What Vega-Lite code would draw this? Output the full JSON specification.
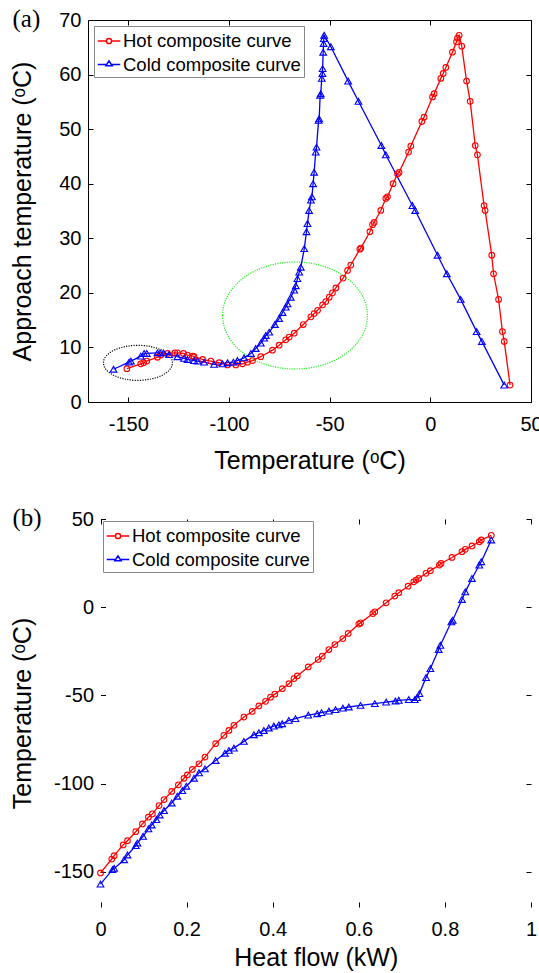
{
  "$schema": "https://vega.github.io/schema/vega-lite/v6.json",
  "background": "white",
  "padding": {"left": 10, "top": 6, "right": 0, "bottom": 0},
  "columns": 1,
  "align": "none",
  "bounds": "full",
  "spacing": 32,
  "resolve": {"scale": {"x": "independent", "y": "independent", "color": "independent"}, "legend": {"color": "independent"}},
  "datasets": {
    "a": [
      {"s":"Hot composite curve","i":1,"x":-150.7,"y":6.1},{"s":"Hot composite curve","i":2,"x":-143.8,"y":7.0},{"s":"Hot composite curve","i":3,"x":-142.4,"y":7.2},{"s":"Hot composite curve","i":4,"x":-140.8,"y":7.5},{"s":"Hot composite curve","i":5,"x":-135.5,"y":8.2},{"s":"Hot composite curve","i":6,"x":-133.8,"y":8.6},{"s":"Hot composite curve","i":7,"x":-130.5,"y":8.9},{"s":"Hot composite curve","i":8,"x":-126.9,"y":9.0},{"s":"Hot composite curve","i":9,"x":-125.6,"y":9.0},{"s":"Hot composite curve","i":10,"x":-122.6,"y":8.9},{"s":"Hot composite curve","i":11,"x":-120.6,"y":8.6},{"s":"Hot composite curve","i":12,"x":-118.1,"y":8.4},{"s":"Hot composite curve","i":13,"x":-117.3,"y":8.3},{"s":"Hot composite curve","i":14,"x":-113.1,"y":7.8},{"s":"Hot composite curve","i":15,"x":-109.0,"y":7.5},{"s":"Hot composite curve","i":16,"x":-104.9,"y":7.2},{"s":"Hot composite curve","i":17,"x":-100.7,"y":6.8},{"s":"Hot composite curve","i":18,"x":-96.6,"y":6.8},{"s":"Hot composite curve","i":19,"x":-93.3,"y":7.0},{"s":"Hot composite curve","i":20,"x":-90.8,"y":7.3},{"s":"Hot composite curve","i":21,"x":-88.3,"y":7.6},{"s":"Hot composite curve","i":22,"x":-84.2,"y":8.3},{"s":"Hot composite curve","i":23,"x":-78.4,"y":9.5},{"s":"Hot composite curve","i":24,"x":-75.1,"y":10.4},{"s":"Hot composite curve","i":25,"x":-71.8,"y":11.4},{"s":"Hot composite curve","i":26,"x":-70.1,"y":11.9},{"s":"Hot composite curve","i":27,"x":-67.6,"y":12.6},{"s":"Hot composite curve","i":28,"x":-63.1,"y":14.2},{"s":"Hot composite curve","i":29,"x":-59.3,"y":15.6},{"s":"Hot composite curve","i":30,"x":-57.7,"y":16.2},{"s":"Hot composite curve","i":31,"x":-56.0,"y":16.8},{"s":"Hot composite curve","i":32,"x":-53.5,"y":17.8},{"s":"Hot composite curve","i":33,"x":-51.9,"y":18.4},{"s":"Hot composite curve","i":34,"x":-50.2,"y":19.2},{"s":"Hot composite curve","i":35,"x":-48.6,"y":20.0},{"s":"Hot composite curve","i":36,"x":-46.9,"y":20.9},{"s":"Hot composite curve","i":37,"x":-43.3,"y":22.7},{"s":"Hot composite curve","i":38,"x":-41.1,"y":24.1},{"s":"Hot composite curve","i":39,"x":-39.5,"y":25.1},{"s":"Hot composite curve","i":40,"x":-35.0,"y":28.0},{"s":"Hot composite curve","i":41,"x":-34.5,"y":28.2},{"s":"Hot composite curve","i":42,"x":-30.0,"y":31.2},{"s":"Hot composite curve","i":43,"x":-28.7,"y":32.5},{"s":"Hot composite curve","i":44,"x":-27.9,"y":32.9},{"s":"Hot composite curve","i":45,"x":-24.6,"y":35.1},{"s":"Hot composite curve","i":46,"x":-22.1,"y":37.3},{"s":"Hot composite curve","i":47,"x":-21.3,"y":37.6},{"s":"Hot composite curve","i":48,"x":-18.5,"y":40.0},{"s":"Hot composite curve","i":49,"x":-16.3,"y":41.8},{"s":"Hot composite curve","i":50,"x":-15.5,"y":42.1},{"s":"Hot composite curve","i":51,"x":-10.8,"y":45.8},{"s":"Hot composite curve","i":52,"x":-9.7,"y":46.9},{"s":"Hot composite curve","i":53,"x":-4.2,"y":51.4},{"s":"Hot composite curve","i":54,"x":-3.1,"y":52.2},{"s":"Hot composite curve","i":55,"x":1.1,"y":55.9},{"s":"Hot composite curve","i":56,"x":1.9,"y":56.5},{"s":"Hot composite curve","i":57,"x":5.2,"y":59.3},{"s":"Hot composite curve","i":58,"x":6.4,"y":60.2},{"s":"Hot composite curve","i":59,"x":7.7,"y":61.3},{"s":"Hot composite curve","i":60,"x":11.0,"y":64.1},{"s":"Hot composite curve","i":61,"x":13.0,"y":66.0},{"s":"Hot composite curve","i":62,"x":13.5,"y":66.7},{"s":"Hot composite curve","i":63,"x":14.3,"y":67.2},{"s":"Hot composite curve","i":64,"x":15.6,"y":65.2},{"s":"Hot composite curve","i":65,"x":18.0,"y":58.8},{"s":"Hot composite curve","i":66,"x":19.8,"y":55.1},{"s":"Hot composite curve","i":67,"x":22.3,"y":47.0},{"s":"Hot composite curve","i":68,"x":23.4,"y":45.3},{"s":"Hot composite curve","i":69,"x":26.7,"y":36.0},{"s":"Hot composite curve","i":70,"x":27.2,"y":35.1},{"s":"Hot composite curve","i":71,"x":30.5,"y":26.9},{"s":"Hot composite curve","i":72,"x":31.4,"y":23.5},{"s":"Hot composite curve","i":73,"x":33.9,"y":18.8},{"s":"Hot composite curve","i":74,"x":35.8,"y":12.9},{"s":"Hot composite curve","i":75,"x":36.7,"y":11.1},{"s":"Hot composite curve","i":76,"x":39.6,"y":3.1},
      {"s":"Cold composite curve","i":1,"x":-157.3,"y":6.0},{"s":"Cold composite curve","i":2,"x":-149.6,"y":7.3},{"s":"Cold composite curve","i":3,"x":-148.7,"y":7.5},{"s":"Cold composite curve","i":4,"x":-143.8,"y":8.4},{"s":"Cold composite curve","i":5,"x":-142.1,"y":8.9},{"s":"Cold composite curve","i":6,"x":-140.8,"y":8.9},{"s":"Cold composite curve","i":7,"x":-135.5,"y":9.0},{"s":"Cold composite curve","i":8,"x":-134.2,"y":9.0},{"s":"Cold composite curve","i":9,"x":-132.5,"y":9.0},{"s":"Cold composite curve","i":10,"x":-129.7,"y":8.7},{"s":"Cold composite curve","i":11,"x":-125.6,"y":8.3},{"s":"Cold composite curve","i":12,"x":-122.3,"y":8.0},{"s":"Cold composite curve","i":13,"x":-120.6,"y":7.8},{"s":"Cold composite curve","i":14,"x":-117.3,"y":7.6},{"s":"Cold composite curve","i":15,"x":-115.6,"y":7.5},{"s":"Cold composite curve","i":16,"x":-112.3,"y":7.3},{"s":"Cold composite curve","i":17,"x":-107.4,"y":6.9},{"s":"Cold composite curve","i":18,"x":-103.2,"y":7.0},{"s":"Cold composite curve","i":19,"x":-100.7,"y":7.2},{"s":"Cold composite curve","i":20,"x":-97.8,"y":7.3},{"s":"Cold composite curve","i":21,"x":-95.8,"y":7.6},{"s":"Cold composite curve","i":22,"x":-92.5,"y":8.1},{"s":"Cold composite curve","i":23,"x":-89.1,"y":8.9},{"s":"Cold composite curve","i":24,"x":-86.7,"y":9.8},{"s":"Cold composite curve","i":25,"x":-84.2,"y":10.8},{"s":"Cold composite curve","i":26,"x":-82.5,"y":11.7},{"s":"Cold composite curve","i":27,"x":-81.7,"y":12.2},{"s":"Cold composite curve","i":28,"x":-80.0,"y":12.8},{"s":"Cold composite curve","i":29,"x":-77.2,"y":14.2},{"s":"Cold composite curve","i":30,"x":-75.1,"y":15.3},{"s":"Cold composite curve","i":31,"x":-73.4,"y":16.4},{"s":"Cold composite curve","i":32,"x":-71.8,"y":17.4},{"s":"Cold composite curve","i":33,"x":-70.9,"y":18.0},{"s":"Cold composite curve","i":34,"x":-69.3,"y":19.2},{"s":"Cold composite curve","i":35,"x":-67.6,"y":20.5},{"s":"Cold composite curve","i":36,"x":-66.8,"y":21.3},{"s":"Cold composite curve","i":37,"x":-66.0,"y":22.6},{"s":"Cold composite curve","i":38,"x":-65.1,"y":23.8},{"s":"Cold composite curve","i":39,"x":-64.3,"y":24.7},{"s":"Cold composite curve","i":40,"x":-62.6,"y":28.1},{"s":"Cold composite curve","i":41,"x":-61.5,"y":31.2},{"s":"Cold composite curve","i":42,"x":-61.0,"y":32.7},{"s":"Cold composite curve","i":43,"x":-60.2,"y":35.1},{"s":"Cold composite curve","i":44,"x":-59.3,"y":37.0},{"s":"Cold composite curve","i":45,"x":-58.8,"y":37.6},{"s":"Cold composite curve","i":46,"x":-58.2,"y":40.0},{"s":"Cold composite curve","i":47,"x":-57.7,"y":42.1},{"s":"Cold composite curve","i":48,"x":-56.9,"y":45.8},{"s":"Cold composite curve","i":49,"x":-56.5,"y":46.7},{"s":"Cold composite curve","i":50,"x":-55.5,"y":51.6},{"s":"Cold composite curve","i":51,"x":-55.2,"y":51.9},{"s":"Cold composite curve","i":52,"x":-54.7,"y":56.2},{"s":"Cold composite curve","i":53,"x":-54.4,"y":56.5},{"s":"Cold composite curve","i":54,"x":-53.9,"y":59.3},{"s":"Cold composite curve","i":55,"x":-53.6,"y":60.2},{"s":"Cold composite curve","i":56,"x":-53.5,"y":61.1},{"s":"Cold composite curve","i":57,"x":-53.2,"y":64.1},{"s":"Cold composite curve","i":58,"x":-53.0,"y":65.7},{"s":"Cold composite curve","i":59,"x":-52.9,"y":66.6},{"s":"Cold composite curve","i":60,"x":-52.7,"y":67.2},{"s":"Cold composite curve","i":61,"x":-49.4,"y":65.1},{"s":"Cold composite curve","i":62,"x":-40.8,"y":58.8},{"s":"Cold composite curve","i":63,"x":-35.7,"y":55.1},{"s":"Cold composite curve","i":64,"x":-24.3,"y":47.0},{"s":"Cold composite curve","i":65,"x":-22.1,"y":45.3},{"s":"Cold composite curve","i":66,"x":-8.9,"y":36.0},{"s":"Cold composite curve","i":67,"x":-7.5,"y":35.1},{"s":"Cold composite curve","i":68,"x":3.6,"y":26.9},{"s":"Cold composite curve","i":69,"x":8.2,"y":23.5},{"s":"Cold composite curve","i":70,"x":15.1,"y":18.8},{"s":"Cold composite curve","i":71,"x":23.0,"y":12.9},{"s":"Cold composite curve","i":72,"x":25.6,"y":11.1},{"s":"Cold composite curve","i":73,"x":36.7,"y":3.1}
    ],
    "b": [
      {"s":"Hot composite curve","i":1,"x":0,"y":-150.7},{"s":"Hot composite curve","i":2,"x":0.0262,"y":-142.8},{"s":"Hot composite curve","i":3,"x":0.0317,"y":-140.9},{"s":"Hot composite curve","i":4,"x":0.0526,"y":-134.8},{"s":"Hot composite curve","i":5,"x":0.0626,"y":-132.4},{"s":"Hot composite curve","i":6,"x":0.0819,"y":-127.3},{"s":"Hot composite curve","i":7,"x":0.0974,"y":-122.9},{"s":"Hot composite curve","i":8,"x":0.1113,"y":-119.1},{"s":"Hot composite curve","i":9,"x":0.1205,"y":-117.2},{"s":"Hot composite curve","i":10,"x":0.136,"y":-112.5},{"s":"Hot composite curve","i":11,"x":0.1476,"y":-109.1},{"s":"Hot composite curve","i":12,"x":0.1654,"y":-104.5},{"s":"Hot composite curve","i":13,"x":0.1809,"y":-100.7},{"s":"Hot composite curve","i":14,"x":0.194,"y":-97.0},{"s":"Hot composite curve","i":15,"x":0.2017,"y":-95.1},{"s":"Hot composite curve","i":16,"x":0.2133,"y":-92.0},{"s":"Hot composite curve","i":17,"x":0.2288,"y":-88.8},{"s":"Hot composite curve","i":18,"x":0.2427,"y":-85.0},{"s":"Hot composite curve","i":19,"x":0.2674,"y":-77.4},{"s":"Hot composite curve","i":20,"x":0.2867,"y":-72.7},{"s":"Hot composite curve","i":21,"x":0.2983,"y":-69.9},{"s":"Hot composite curve","i":22,"x":0.3099,"y":-67.0},{"s":"Hot composite curve","i":23,"x":0.3331,"y":-62.3},{"s":"Hot composite curve","i":24,"x":0.3524,"y":-59.1},{"s":"Hot composite curve","i":25,"x":0.3679,"y":-56.0},{"s":"Hot composite curve","i":26,"x":0.3834,"y":-53.4},{"s":"Hot composite curve","i":27,"x":0.395,"y":-51.0},{"s":"Hot composite curve","i":28,"x":0.405,"y":-49.3},{"s":"Hot composite curve","i":29,"x":0.4223,"y":-46.2},{"s":"Hot composite curve","i":30,"x":0.4378,"y":-43.4},{"s":"Hot composite curve","i":31,"x":0.4494,"y":-40.5},{"s":"Hot composite curve","i":32,"x":0.4571,"y":-39.0},{"s":"Hot composite curve","i":33,"x":0.4826,"y":-33.9},{"s":"Hot composite curve","i":34,"x":0.5058,"y":-29.7},{"s":"Hot composite curve","i":35,"x":0.5151,"y":-27.8},{"s":"Hot composite curve","i":36,"x":0.5305,"y":-24.0},{"s":"Hot composite curve","i":37,"x":0.5444,"y":-21.2},{"s":"Hot composite curve","i":38,"x":0.563,"y":-17.8},{"s":"Hot composite curve","i":39,"x":0.5754,"y":-14.9},{"s":"Hot composite curve","i":40,"x":0.6001,"y":-9.6},{"s":"Hot composite curve","i":41,"x":0.604,"y":-8.9},{"s":"Hot composite curve","i":42,"x":0.6326,"y":-3.6},{"s":"Hot composite curve","i":43,"x":0.6372,"y":-2.6},{"s":"Hot composite curve","i":44,"x":0.6635,"y":2.5},{"s":"Hot composite curve","i":45,"x":0.6836,"y":6.3},{"s":"Hot composite curve","i":46,"x":0.6929,"y":8.2},{"s":"Hot composite curve","i":47,"x":0.7145,"y":11.9},{"s":"Hot composite curve","i":48,"x":0.7276,"y":14.4},{"s":"Hot composite curve","i":49,"x":0.7331,"y":15.4},{"s":"Hot composite curve","i":50,"x":0.7392,"y":16.3},{"s":"Hot composite curve","i":51,"x":0.7562,"y":19.2},{"s":"Hot composite curve","i":52,"x":0.7663,"y":20.7},{"s":"Hot composite curve","i":53,"x":0.7872,"y":23.9},{"s":"Hot composite curve","i":54,"x":0.791,"y":24.8},{"s":"Hot composite curve","i":55,"x":0.8165,"y":28.2},{"s":"Hot composite curve","i":56,"x":0.8397,"y":31.5},{"s":"Hot composite curve","i":57,"x":0.8474,"y":32.8},{"s":"Hot composite curve","i":58,"x":0.8629,"y":34.7},{"s":"Hot composite curve","i":59,"x":0.8799,"y":37.1},{"s":"Hot composite curve","i":60,"x":0.8845,"y":38.1},{"s":"Hot composite curve","i":61,"x":0.9077,"y":40.7},
      {"s":"Cold composite curve","i":1,"x":0,"y":-157.0},{"s":"Cold composite curve","i":2,"x":0.0278,"y":-148.8},{"s":"Cold composite curve","i":3,"x":0.0317,"y":-148.1},{"s":"Cold composite curve","i":4,"x":0.0549,"y":-143.2},{"s":"Cold composite curve","i":5,"x":0.0626,"y":-140.5},{"s":"Cold composite curve","i":6,"x":0.0819,"y":-135.2},{"s":"Cold composite curve","i":7,"x":0.0858,"y":-133.7},{"s":"Cold composite curve","i":8,"x":0.0989,"y":-129.9},{"s":"Cold composite curve","i":9,"x":0.1113,"y":-125.7},{"s":"Cold composite curve","i":10,"x":0.119,"y":-123.5},{"s":"Cold composite curve","i":11,"x":0.1298,"y":-120.4},{"s":"Cold composite curve","i":12,"x":0.1376,"y":-117.8},{"s":"Cold composite curve","i":13,"x":0.1476,"y":-115.3},{"s":"Cold composite curve","i":14,"x":0.1654,"y":-111.0},{"s":"Cold composite curve","i":15,"x":0.1785,"y":-107.2},{"s":"Cold composite curve","i":16,"x":0.1901,"y":-104.0},{"s":"Cold composite curve","i":17,"x":0.1994,"y":-101.5},{"s":"Cold composite curve","i":18,"x":0.2172,"y":-97.0},{"s":"Cold composite curve","i":19,"x":0.2288,"y":-93.9},{"s":"Cold composite curve","i":20,"x":0.2427,"y":-91.7},{"s":"Cold composite curve","i":21,"x":0.2674,"y":-86.9},{"s":"Cold composite curve","i":22,"x":0.2891,"y":-82.8},{"s":"Cold composite curve","i":23,"x":0.2983,"y":-81.2},{"s":"Cold composite curve","i":24,"x":0.3099,"y":-79.9},{"s":"Cold composite curve","i":25,"x":0.3331,"y":-76.1},{"s":"Cold composite curve","i":26,"x":0.3563,"y":-72.3},{"s":"Cold composite curve","i":27,"x":0.3679,"y":-71.2},{"s":"Cold composite curve","i":28,"x":0.3795,"y":-69.9},{"s":"Cold composite curve","i":29,"x":0.3911,"y":-68.5},{"s":"Cold composite curve","i":30,"x":0.4027,"y":-67.4},{"s":"Cold composite curve","i":31,"x":0.4143,"y":-66.7},{"s":"Cold composite curve","i":32,"x":0.422,"y":-66.1},{"s":"Cold composite curve","i":33,"x":0.4375,"y":-64.2},{"s":"Cold composite curve","i":34,"x":0.4529,"y":-63.2},{"s":"Cold composite curve","i":35,"x":0.4826,"y":-61.2},{"s":"Cold composite curve","i":36,"x":0.5035,"y":-60.4},{"s":"Cold composite curve","i":37,"x":0.5135,"y":-59.8},{"s":"Cold composite curve","i":38,"x":0.5305,"y":-58.9},{"s":"Cold composite curve","i":39,"x":0.546,"y":-58.1},{"s":"Cold composite curve","i":40,"x":0.563,"y":-57.2},{"s":"Cold composite curve","i":41,"x":0.5769,"y":-56.6},{"s":"Cold composite curve","i":42,"x":0.604,"y":-55.7},{"s":"Cold composite curve","i":43,"x":0.6372,"y":-54.7},{"s":"Cold composite curve","i":44,"x":0.6635,"y":-53.8},{"s":"Cold composite curve","i":45,"x":0.6851,"y":-53.2},{"s":"Cold composite curve","i":46,"x":0.6929,"y":-52.8},{"s":"Cold composite curve","i":47,"x":0.716,"y":-52.4},{"s":"Cold composite curve","i":48,"x":0.73,"y":-52.4},{"s":"Cold composite curve","i":49,"x":0.7354,"y":-51.3},{"s":"Cold composite curve","i":50,"x":0.7408,"y":-49.0},{"s":"Cold composite curve","i":51,"x":0.7562,"y":-39.9},{"s":"Cold composite curve","i":52,"x":0.7663,"y":-34.8},{"s":"Cold composite curve","i":53,"x":0.7856,"y":-24.0},{"s":"Cold composite curve","i":54,"x":0.7895,"y":-21.6},{"s":"Cold composite curve","i":55,"x":0.815,"y":-8.3},{"s":"Cold composite curve","i":56,"x":0.8181,"y":-7.4},{"s":"Cold composite curve","i":57,"x":0.8397,"y":4.4},{"s":"Cold composite curve","i":58,"x":0.8474,"y":8.7},{"s":"Cold composite curve","i":59,"x":0.8629,"y":16.3},{"s":"Cold composite curve","i":60,"x":0.8799,"y":23.9},{"s":"Cold composite curve","i":61,"x":0.8845,"y":25.8},{"s":"Cold composite curve","i":62,"x":0.9077,"y":38.1}
    ]
  },
  "concat": [
    {
      "width": 443,
      "height": 382,
      "title": {"text": "(a)", "anchor": "start", "frame": "group", "orient": "top", "offset": 0, "dx": -75.5, "dy": 42, "baseline": "alphabetic", "font": "Liberation Serif", "fontSize": 25, "fontWeight": "normal", "color": "black"},
      "resolve": {"axis": {"x": "independent", "y": "independent"}},
      "layer": [
        {
          "data": {"values": [{"x": -145.2, "y": 7.18}]},
          "mark": {"type": "point", "clip": true, "shape": "M-1,0A1,0.507,0,1,1,1,0A1,0.507,0,1,1,-1,0", "size": 4761, "filled": false, "stroke": "black", "strokeWidth": 1.2, "strokeDash": [1.2, 1.3], "opacity": 1},
          "encoding": {
            "x": {"field": "x", "type": "quantitative", "scale": {"domain": [-170, 50], "nice": false, "zero": false}, "axis": null},
            "y": {"field": "y", "type": "quantitative", "scale": {"domain": [0, 70], "nice": false, "zero": false}, "axis": null}
          }
        },
        {
          "data": {"values": [{"x": -67.2, "y": 15.85}]},
          "mark": {"type": "point", "clip": true, "shape": "M-1,0A1,0.739,0,1,1,1,0A1,0.739,0,1,1,-1,0", "size": 20967, "filled": false, "stroke": "#22ee22", "strokeWidth": 1.2, "strokeDash": [1.2, 1.2], "opacity": 1},
          "encoding": {
            "x": {"field": "x", "type": "quantitative", "scale": {"domain": [-170, 50], "nice": false, "zero": false}, "axis": null},
            "y": {"field": "y", "type": "quantitative", "scale": {"domain": [0, 70], "nice": false, "zero": false}, "axis": null}
          }
        },
        {
          "data": {"name": "a"},
          "mark": {"type": "line", "strokeWidth": 1.3},
          "encoding": {
            "x": {"field": "x", "type": "quantitative", "scale": {"domain": [-170, 50], "nice": false, "zero": false}, "axis": {"orient": "bottom", "title": "Temperature (ᵒC)", "values": [-150, -100, -50, 0, 50], "labelPadding": 17.5, "titlePadding": 14}},
            "y": {"field": "y", "type": "quantitative", "scale": {"domain": [0, 70], "nice": false, "zero": false}, "axis": {"orient": "left", "title": "Approach temperature (ᵒC)", "values": [0, 10, 20, 30, 40, 50, 60, 70], "labelPadding": 12, "titlePadding": 23}},
            "color": {"field": "s", "type": "nominal", "scale": {"domain": ["Hot composite curve", "Cold composite curve"], "range": ["#ff0000", "#0000ff"]},
              "legend": {"orient": "top-left", "offset": 6, "title": null, "symbolType": {"expr": "datum.value == 'Hot composite curve' ? 'M-1,0L-0.23,0M0.23,0L1,0M-0.23,0A0.23,0.23,0,1,1,0.23,0A0.23,0.23,0,1,1,-0.23,0' : 'M-1,0L-0.2,0M0.2,0L1,0M0,-0.32L0.28,0.12L-0.28,0.12Z'"}, "symbolSize": 506, "symbolStrokeWidth": 1.5, "symbolFillColor": "transparent", "labelFont": "Liberation Sans", "labelFontSize": 18.5, "labelLimit": 400, "labelColor": "black", "labelOffset": 2, "strokeColor": "#888888", "fillColor": "white", "padding": 3, "rowPadding": 1.5}},
            "order": {"field": "i", "type": "quantitative"}
          }
        },
        {
          "data": {"name": "a"},
          "transform": [{"filter": "datum.s == 'Hot composite curve'"}],
          "mark": {"type": "point", "shape": "circle", "size": 32, "filled": false, "stroke": "#ff0000", "strokeWidth": 1.1, "opacity": 1},
          "encoding": {
            "x": {"field": "x", "type": "quantitative", "scale": {"domain": [-170, 50], "nice": false, "zero": false}, "axis": {"orient": "top", "title": null, "labels": false, "values": [-150, -100, -50, 0, 50]}},
            "y": {"field": "y", "type": "quantitative", "scale": {"domain": [0, 70], "nice": false, "zero": false}, "axis": {"orient": "right", "title": null, "labels": false, "values": [0, 10, 20, 30, 40, 50, 60, 70]}}
          }
        },
        {
          "data": {"name": "a"},
          "transform": [{"filter": "datum.s == 'Cold composite curve'"}],
          "mark": {"type": "point", "shape": "triangle-up", "size": 45, "filled": false, "stroke": "#0000ff", "strokeWidth": 1.1, "opacity": 1},
          "encoding": {
            "x": {"field": "x", "type": "quantitative", "scale": {"domain": [-170, 50], "nice": false, "zero": false}, "axis": null},
            "y": {"field": "y", "type": "quantitative", "scale": {"domain": [0, 70], "nice": false, "zero": false}, "axis": null}
          }
        }
      ]
    },
    {
      "width": 443,
      "height": 388,
      "view": {"stroke": null},
      "title": {"text": "(b)", "anchor": "start", "frame": "group", "orient": "top", "offset": 0, "dx": -75.5, "dy": 42, "baseline": "alphabetic", "font": "Liberation Serif", "fontSize": 25, "fontWeight": "normal", "color": "black"},
      "resolve": {"axis": {"x": "independent", "y": "independent"}},
      "layer": [
        {
          "mark": {"type": "rect", "filled": false, "stroke": "black", "strokeWidth": 1},
          "encoding": {
            "x": {"datum": 0, "type": "quantitative", "scale": {"domain": [0, 1], "range": [12.5, 443], "nice": false, "zero": false}, "axis": null},
            "x2": {"datum": 1},
            "y": {"datum": -170, "type": "quantitative", "scale": {"domain": [-170, 50], "nice": false, "zero": false}, "axis": null},
            "y2": {"datum": 50}
          }
        },
        {
          "data": {"name": "b"},
          "mark": {"type": "line", "strokeWidth": 1.3},
          "encoding": {
            "x": {"field": "x", "type": "quantitative", "scale": {"domain": [0, 1], "range": [12.5, 443], "nice": false, "zero": false}, "axis": {"orient": "bottom", "title": "Heat flow (kW)", "values": [0, 0.2, 0.4, 0.6, 0.8, 1], "labelPadding": 17.5, "titlePadding": 6}},
            "y": {"field": "y", "type": "quantitative", "scale": {"domain": [-170, 50], "nice": false, "zero": false}, "axis": {"orient": "left", "offset": -12.5, "title": "Temperature (ᵒC)", "values": [-150, -100, -50, 0, 50], "labelPadding": 12, "titlePadding": 18}},
            "color": {"field": "s", "type": "nominal", "scale": {"domain": ["Hot composite curve", "Cold composite curve"], "range": ["#ff0000", "#0000ff"]},
              "legend": {"orient": "none", "legendX": 15, "legendY": 2, "title": null, "symbolType": {"expr": "datum.value == 'Hot composite curve' ? 'M-1,0L-0.23,0M0.23,0L1,0M-0.23,0A0.23,0.23,0,1,1,0.23,0A0.23,0.23,0,1,1,-0.23,0' : 'M-1,0L-0.2,0M0.2,0L1,0M0,-0.32L0.28,0.12L-0.28,0.12Z'"}, "symbolSize": 506, "symbolStrokeWidth": 1.5, "symbolFillColor": "transparent", "labelFont": "Liberation Sans", "labelFontSize": 18.5, "labelLimit": 400, "labelColor": "black", "labelOffset": 2, "strokeColor": "#888888", "fillColor": "white", "padding": 3, "rowPadding": 1.5}},
            "order": {"field": "i", "type": "quantitative"}
          }
        },
        {
          "data": {"name": "b"},
          "transform": [{"filter": "datum.s == 'Hot composite curve'"}],
          "mark": {"type": "point", "shape": "circle", "size": 32, "filled": false, "stroke": "#ff0000", "strokeWidth": 1.1, "opacity": 1},
          "encoding": {
            "x": {"field": "x", "type": "quantitative", "scale": {"domain": [0, 1], "range": [12.5, 443], "nice": false, "zero": false}, "axis": {"orient": "top", "title": null, "labels": false, "values": [0, 0.2, 0.4, 0.6, 0.8, 1]}},
            "y": {"field": "y", "type": "quantitative", "scale": {"domain": [-170, 50], "nice": false, "zero": false}, "axis": {"orient": "right", "title": null, "labels": false, "values": [-150, -100, -50, 0, 50]}}
          }
        },
        {
          "data": {"name": "b"},
          "transform": [{"filter": "datum.s == 'Cold composite curve'"}],
          "mark": {"type": "point", "shape": "triangle-up", "size": 45, "filled": false, "stroke": "#0000ff", "strokeWidth": 1.1, "opacity": 1},
          "encoding": {
            "x": {"field": "x", "type": "quantitative", "scale": {"domain": [0, 1], "range": [12.5, 443], "nice": false, "zero": false}, "axis": null},
            "y": {"field": "y", "type": "quantitative", "scale": {"domain": [-170, 50], "nice": false, "zero": false}, "axis": null}
          }
        }
      ]
    }
  ],
  "config": {
    "view": {"stroke": "black", "strokeWidth": 1},
    "axis": {"domain": false, "grid": false, "ticks": true, "tickSize": -5, "tickColor": "black", "tickWidth": 1, "labelFont": "Liberation Sans", "labelFontSize": 20, "labelColor": "black", "labelFlush": false, "labelOverlap": false, "labelExpr": "datum.value + ''", "titleFont": "Liberation Sans", "titleFontSize": 25, "titleFontWeight": "normal", "titleColor": "black"}
  }
}
